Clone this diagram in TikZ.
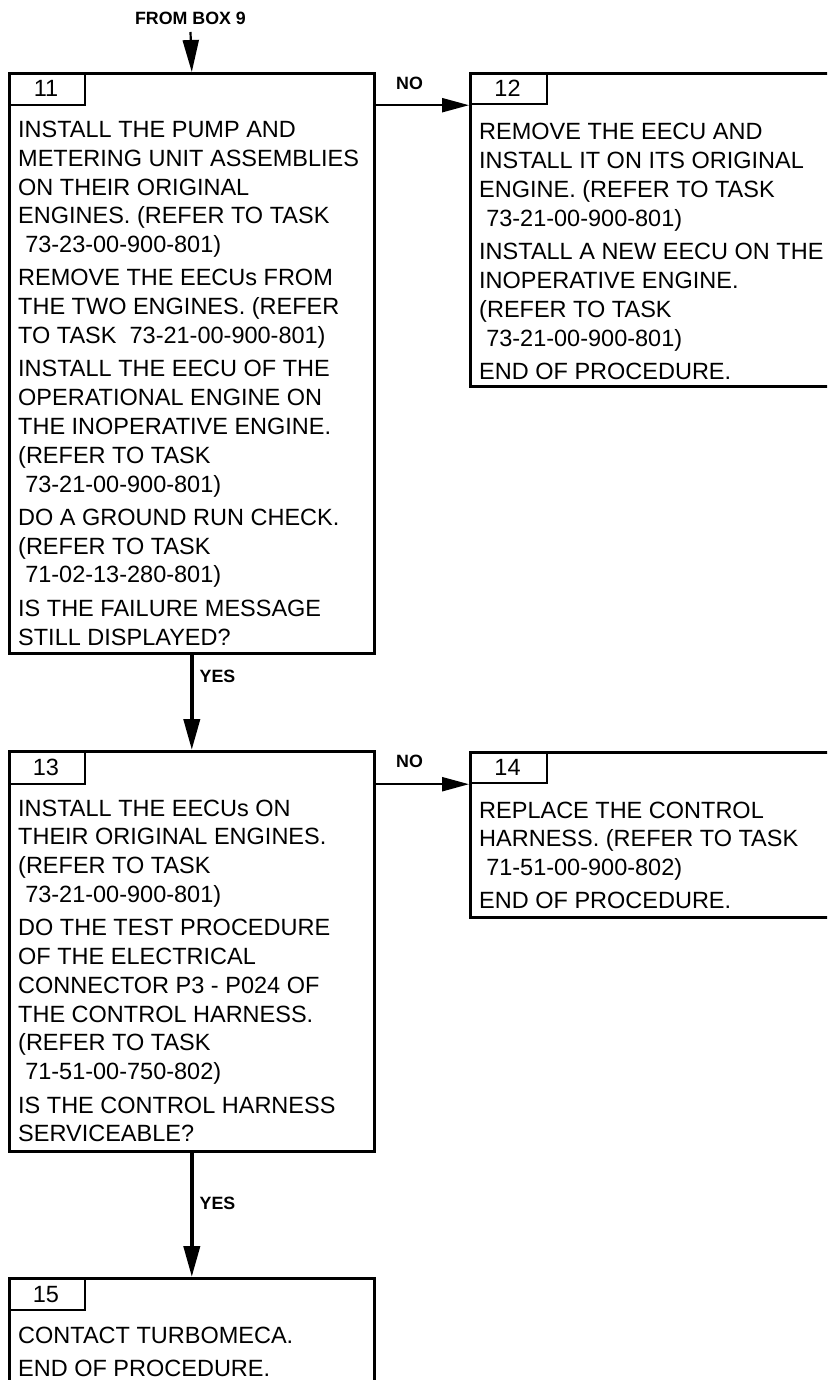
\documentclass[tikz,border=0pt]{standalone}
\usepackage{fontspec}
\setmainfont{Liberation Sans}
\usetikzlibrary{arrows.meta}
\newcommand\flowtext[1]{\parbox[t]{420pt}{\fontsize{23.5}{28.8}\selectfont\setlength{\parskip}{4.5pt}\setlength{\parindent}{0pt}\raggedright #1}}
\newcommand\ind{\hspace*{0.3em}}
\begin{document}
\begin{tikzpicture}[x=1pt,y=-1pt,
  mainbox/.style={draw, line width=2.6pt, rectangle, inner sep=0pt, anchor=north west},
  tabbox/.style={draw, line width=2.2pt, rectangle, inner sep=0pt, anchor=north west},
  body/.style={anchor=base west, inner sep=0pt},
  num/.style={anchor=base, inner sep=0pt, font=\fontsize{23.5}{28}\selectfont},
  lbl/.style={inner sep=0pt, font=\bfseries\fontsize{17.8}{20}\selectfont},
  flow/.style={-{Triangle[length=31pt,width=16pt]}, line width=4pt},
  entry/.style={-{Triangle[length=32pt,width=16pt]}, line width=2.2pt},
  side/.style={-{Triangle[length=27pt,width=14pt]}, line width=2.2pt}]
\clip (0,0) rectangle (827,1380);
\fill[white] (0,0) rectangle (827,1380);

% boxes
\node[mainbox, minimum width=365pt, minimum height=580pt] (b11) at (8,72) {};
\node[tabbox, minimum width=76pt, minimum height=32pt] (t11) at (8,72) {};
\node[mainbox, minimum width=400pt, minimum height=313pt] (b12) at (469,72) {};
\node[tabbox, minimum width=77pt, minimum height=31pt] (t12) at (469,72) {};
\node[mainbox, minimum width=365pt, minimum height=400pt] (b13) at (8,750) {};
\node[tabbox, minimum width=76pt, minimum height=33pt] (t13) at (8,750) {};
\node[mainbox, minimum width=400pt, minimum height=165pt] (b14) at (469,751) {};
\node[tabbox, minimum width=77pt, minimum height=31pt] (t14) at (469,751) {};
\node[mainbox, minimum width=365pt, minimum height=200pt] (b15) at (8,1277) {};
\node[tabbox, minimum width=76pt, minimum height=32pt] (t15) at (8,1277) {};

% numbers
\node[num] (n11) at (46,97) {11};
\node[num] (n12) at (507.5,97) {12};
\node[num] (n13) at (46,775) {13};
\node[num] (n14) at (507.5,775) {14};
\node[num] (n15) at (46,1302) {15};

% texts
\node[body] (x11) at (18,137.5) {\flowtext{%
INSTALL THE PUMP AND\\
METERING UNIT ASSEMBLIES\\
ON THEIR ORIGINAL\\
ENGINES. (REFER TO TASK\\
\ind 73-23-00-900-801)\par
REMOVE THE EECUs FROM\\
THE TWO ENGINES. (REFER\\
TO TASK\ \ 73-21-00-900-801)\par
INSTALL THE EECU OF THE\\
OPERATIONAL ENGINE ON\\
THE INOPERATIVE ENGINE.\\
(REFER TO TASK\\
\ind 73-21-00-900-801)\par
DO A GROUND RUN CHECK.\\
(REFER TO TASK\\
\ind 71-02-13-280-801)\par
IS THE FAILURE MESSAGE\\
STILL DISPLAYED?}};

\node[body] (x12) at (479,140) {\flowtext{%
REMOVE THE EECU AND\\
INSTALL IT ON ITS ORIGINAL\\
ENGINE. (REFER TO TASK\\
\ind 73-21-00-900-801)\par
INSTALL A NEW EECU ON THE\\
INOPERATIVE ENGINE.\\
(REFER TO TASK\\
\ind 73-21-00-900-801)\par
END OF PROCEDURE.}};

\node[body] (x13) at (18,816) {\flowtext{%
INSTALL THE EECUs ON\\
THEIR ORIGINAL ENGINES.\\
(REFER TO TASK\\
\ind 73-21-00-900-801)\par
DO THE TEST PROCEDURE\\
OF THE ELECTRICAL\\
CONNECTOR P3 - P024 OF\\
THE CONTROL HARNESS.\\
(REFER TO TASK\\
\ind 71-51-00-750-802)\par
IS THE CONTROL HARNESS\\
SERVICEABLE?}};

\node[body] (x14) at (479,818) {\flowtext{%
REPLACE THE CONTROL\\
HARNESS. (REFER TO TASK\\
\ind 71-51-00-900-802)\par
END OF PROCEDURE.}};

\node[body] (x15) at (18,1343) {\flowtext{%
CONTACT TURBOMECA.\par
END OF PROCEDURE.}};

% labels
\node[lbl] (lfrom) at (190.5,18.5) {FROM BOX 9};
\coordinate (src) at (190.5,32);
\node[lbl] (lno1) at (409.5,83.5) {NO};
\node[lbl] (lno2) at (409.5,761) {NO};
\node[lbl] (lyes1) at (217.5,676) {YES};
\node[lbl] (lyes2) at (217.5,1203) {YES};

% connectors
\draw[entry] (src) -- (b11.north);
\draw[side] (b11.east |- t12.south west) -- (t12.south west);
\draw[flow] (b11.south) -- (b13.north);
\draw[side] (b13.east |- t14.south west) -- (t14.south west);
\draw[flow] (b13.south) -- (b15.north);
\end{tikzpicture}
\end{document}
